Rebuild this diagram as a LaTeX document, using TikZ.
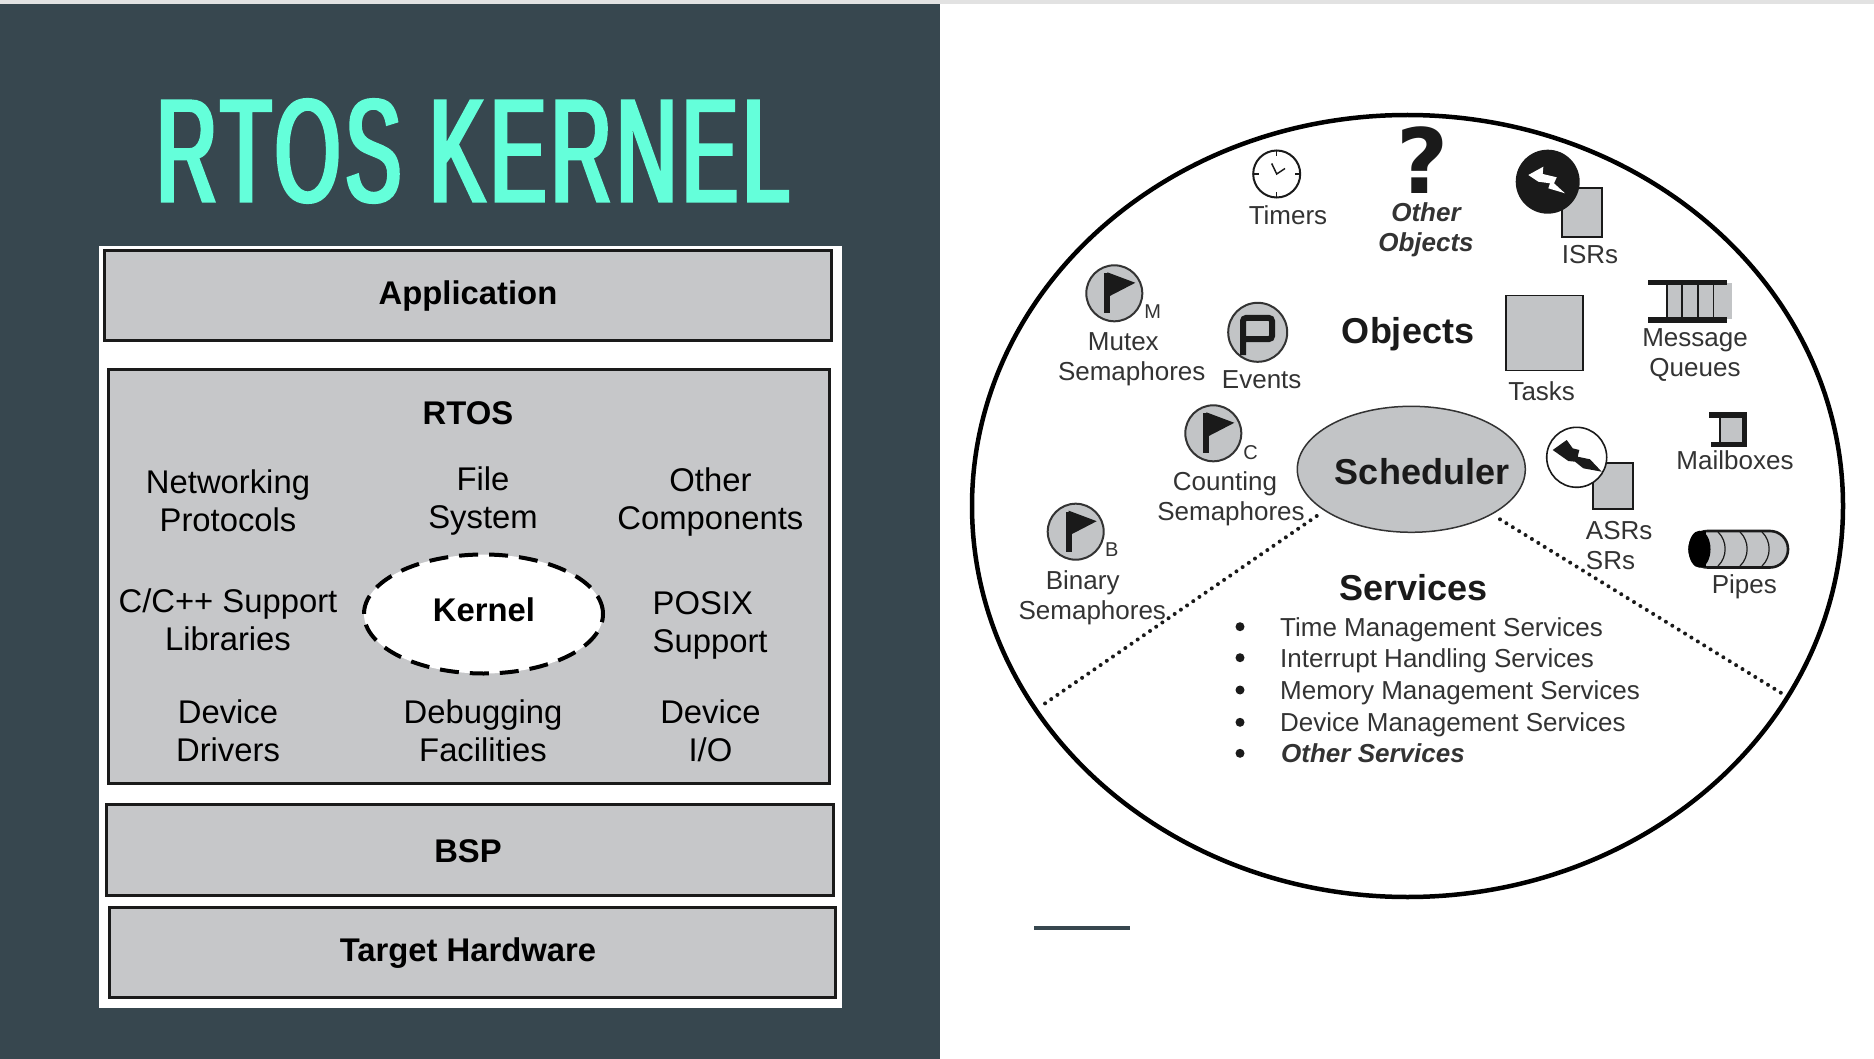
\documentclass[tikz,border=0pt]{standalone}
\usepackage{fontspec}
\setmainfont{Liberation Sans}
\newfontfamily\chunky{DejaVu Sans}
\newfontfamily\titlefont[FakeStretch=.17,FakeBold=1,LetterSpace=1]{Liberation Sans}
\usetikzlibrary{calc,shapes.geometric}
\definecolor{panel}{HTML}{37474F}
\definecolor{mint}{HTML}{64FFDA}
\definecolor{boxgray}{HTML}{C6C7C9}
\definecolor{icongray}{HTML}{C2C4C6}
\definecolor{inkdark}{HTML}{1A1A1A}
\definecolor{inkgray}{HTML}{333333}
\definecolor{topband}{HTML}{E2E2E2}
\tikzset{
  layerbox/.style={draw=inkdark,line width=3pt,fill=boxgray,inner sep=0pt,outer sep=0pt},
  lefttxt/.style={inner sep=0pt,anchor=north,align=center,text=black,font=\fontsize{32.8}{38}\selectfont},
  leftbold/.style={lefttxt,font=\fontsize{32.8}{38}\selectfont\bfseries},
  righttxt/.style={inner sep=0pt,anchor=north,align=center,text=inkgray,font=\fontsize{26}{30}\selectfont},
  rightital/.style={righttxt,font=\fontsize{26}{30}\selectfont\bfseries\itshape},
  rightlist/.style={righttxt,anchor=north west,align=left},
  heading/.style={inner sep=0pt,anchor=north,text=inkdark,font=\fontsize{36}{40}\selectfont\bfseries},
  sublabel/.style={inner sep=0pt,text=inkgray,font=\fontsize{20}{22}\selectfont},
  iconcircle/.style={circle,draw=inkgray,line width=2pt,fill=icongray,inner sep=0pt,minimum size=56pt,outer sep=0pt},
  iconsq/.style={draw=inkdark,line width=1.8pt,fill=icongray},
  dotline/.style={line width=4pt,line cap=round,dash pattern=on 0pt off 7.5pt,draw=inkdark},
  bullet/.style={circle,fill=inkdark,inner sep=0pt,minimum size=9pt},
}
\newcommand{\flagmark}[2]{%
  \fill[inkdark] ($(#1,#2)+(-10,-20)$) rectangle ($(#1,#2)+(-4,20)$);
  \fill[inkdark] ($(#1,#2)+(-7,-21)$) -- ($(#1,#2)+(21,-10.5)$) -- ($(#1,#2)+(-7,4)$) -- cycle;
}
\begin{document}
\begin{tikzpicture}[x=1pt,y=-1pt]
\useasboundingbox (0,0) rectangle (1874,1059);
\fill[white] (0,0) rectangle (1874,1059);
\fill[topband] (0,0) rectangle (1874,4);
\fill[panel] (0,4) rectangle (940,1059);
% title
\node[inner sep=0pt,text=mint,anchor=center] (title) at (473,151)
  {\scalebox{1}[.3]{\titlefont\fontsize{493}{500}\selectfont RTOS KERNEL}};
% white sheet
\fill[white] (99,246) rectangle (842,1008);
% layer boxes
\node[layerbox,minimum width=727pt,minimum height=90pt] (app) at (467.5,295.5) {};
\node[layerbox,minimum width=721pt,minimum height=414pt] (rtos) at (468.5,576.5) {};
\node[layerbox,minimum width=727pt,minimum height=91pt] (bsp) at (470,850) {};
\node[layerbox,minimum width=726pt,minimum height=90pt] (hw) at (472,952.5) {};
\node[leftbold] (tapp) at (468,281) {Application};
\node[leftbold] (trtos) at (468,401) {RTOS};
\node[leftbold] (tbsp) at (468,839) {BSP};
\node[leftbold] (thw) at (468,937.6) {Target Hardware};
\node[lefttxt] (net) at (228,470) {Networking\\Protocols};
\node[lefttxt] (file) at (483,466.6) {File\\System};
\node[lefttxt] (other) at (710.4,468) {Other\\Components};
\node[lefttxt] (libs) at (228,589) {C/C++ Support\\Libraries};
\node[lefttxt,anchor=north west,align=left] (posix) at (652.5,591.7) {POSIX\\Support};
\node[lefttxt] (drv) at (228,700) {Device\\Drivers};
\node[lefttxt] (dbg) at (483,700) {Debugging\\Facilities};
\node[lefttxt] (dio) at (710.4,700) {Device\\I/O};
\node[ellipse,draw=black,fill=white,line width=4pt,dash pattern=on 19pt off 11pt,minimum width=239pt,minimum height=119pt,inner sep=0pt] (kern) at (483.5,614) {};
\node[leftbold] (tkern) at (484,598) {Kernel};
% accent line
\fill[panel] (1034,926.3) rectangle (1130,930.3);
% big circle
\draw[black,line width=4.5pt] (1407.5,506) ellipse [x radius=435.5,y radius=391];
% scheduler
\node[ellipse,draw=inkgray,fill=icongray,line width=1.5pt,minimum width=228pt,minimum height=126pt,inner sep=0pt] (sched) at (1411.3,469.3) {};
\node[heading] (tsched) at (1422,458) {Scheduler};
\node[heading] (tobj) at (1408,317) {Objects};
\node[heading] (tserv) at (1413.7,574) {Services};
% dotted lines
\coordinate (dl) at (1042.7,705);
\coordinate (dr) at (1781.7,693.3);
\coordinate (sl) at (1316.7,516);
\coordinate (sr) at (1500,519.3);
\draw[dotline] (sl) -- (dl);
\draw[dotline] (sr) -- (dr);
% clock
\node[circle,draw=inkdark,line width=2pt,fill=white,minimum size=47pt,inner sep=0pt] (clk) at (1276.7,174) {};
\draw[inkdark,line width=1.5pt] (1276.7,150) -- (1276.7,156) (1276.7,198) -- (1276.7,192) (1252.7,174) -- (1258.7,174) (1300.7,174) -- (1294.7,174);
\draw[inkdark,line width=1.5pt] (1271.7,163.5) -- (1276.7,174) -- (1285,168.5);
\node[righttxt] (ttim) at (1288,205) {Timers};
% other objects
\node[inner sep=0pt,anchor=north,text=inkdark,text depth=0pt,font=\chunky\fontsize{90}{92}\selectfont\bfseries] (qm) at (1423,127) {?};
\node[rightital] (toth) at (1426,202.5) {Other\\Objects};
% ISR
\draw[iconsq] (1561.7,187.7) rectangle (1602,236.7);
\node[circle,fill=inkdark,minimum size=64pt,inner sep=0pt] (isrc) at (1547.7,181.7) {};
\fill[white] (1528.3,175) -- (1543.3,166.7) -- (1542.7,174) -- (1556.7,177.3) -- (1554,183.3) -- (1565,193.3) -- (1548.3,188.3) -- (1550,183.3) -- (1538.3,181.7) -- cycle;
\node[righttxt] (tisr) at (1590,245) {ISRs};
% mutex
\node[iconcircle] (mut) at (1114.3,293.3) {};
\flagmark{1114.3}{293.3}
\node[sublabel] (mm) at (1152.7,312) {M};
\node[righttxt] (tmut) at (1123.3,332) {Mutex};
\node[righttxt] (tmut2) at (1131.7,361) {Semaphores};
% events
\node[iconcircle,minimum size=59pt] (evt) at (1257.7,332.3) {};
\draw[inkdark,line width=6pt,rounded corners=3pt] (1243,355) -- (1243,318) -- (1272,318) -- (1272,339) -- (1243,339);
\node[righttxt] (tevt) at (1261.7,370) {Events};
% tasks
\node[iconsq,draw,rectangle,minimum width=77pt,minimum height=75pt,inner sep=0pt] (task) at (1544.5,333) {};
\node[righttxt] (ttask) at (1541.7,381) {Tasks};
% message queue
\fill[icongray] (1666.7,283) rectangle (1731.7,319);
\fill[inkdark] (1648.3,280) rectangle (1727,285.5);
\fill[inkdark] (1648.3,317.3) rectangle (1727,322.7);
\foreach \qx in {1666.7,1681.7,1697.7,1713.3}{\draw[inkdark,line width=1.6pt] (\qx,285) -- (\qx,318);}
\node[righttxt] (tq) at (1695,328) {Message\\Queues};
% mailbox
\fill[icongray] (1720,418) rectangle (1742,442);
\fill[inkdark] (1709.3,412.3) rectangle (1746.7,418.3);
\fill[inkdark] (1741.7,412.3) rectangle (1746.7,446.7);
\fill[inkdark] (1711,441.7) rectangle (1746.7,446.7);
\draw[inkdark,line width=1.4pt] (1720,418) -- (1720,442);
\node[righttxt] (tmb) at (1735,450) {Mailboxes};
% pipes
\draw[inkdark,fill=icongray,line width=2.6pt,rounded corners=18pt] (1689.5,531) rectangle (1788,567.5);
\fill[black] (1699.5,549.2) ellipse [x radius=11,y radius=18.5];
\fill[black] (1701,531) rectangle (1706,567);
\foreach \px in {1718,1740,1762}{
  \draw[inkdark,line width=1.2pt] (\px,532) .. controls (\px+9.5,541) and (\px+9.5,557) .. (\px,566);}
\node[righttxt] (tpipe) at (1744.3,574) {Pipes};
% ASR
\draw[iconsq] (1593.3,462.7) rectangle (1633.3,509.3);
\node[circle,draw=inkdark,line width=1.6pt,fill=white,minimum size=60pt,inner sep=0pt] (asrc) at (1576.7,457.3) {};
\fill[inkdark] (1552.7,450) -- (1566.7,440) -- (1572.7,448.3) -- (1579.3,450) -- (1577.7,456.7) -- (1590,459.3) -- (1601.7,471.7) -- (1583.3,468.3) -- (1575,461.7) -- (1568.3,461) -- cycle;
\node[righttxt,anchor=north west,align=left] (tasr) at (1585.7,521) {ASRs\\SRs};
% counting
\node[iconcircle] (cnt) at (1213.3,433.3) {};
\flagmark{1213.3}{433.3}
\node[sublabel] (mc) at (1250.7,452.3) {C};
\node[righttxt] (tcnt) at (1225,471.5) {Counting};
\node[righttxt] (tcnt2) at (1231,501) {Semaphores};
% binary
\node[iconcircle] (bin) at (1075.7,531.7) {};
\flagmark{1075.7}{531.7}
\node[sublabel] (mb) at (1111.7,550) {B};
\node[righttxt] (tbin) at (1082.7,570) {Binary};
\node[righttxt] (tbin2) at (1092.3,600) {Semaphores};
% services list
\foreach \i/\by in {a/626.7,b/657.7,c/690,d/722.3,e/753.3}{\node[bullet] (bul\i) at (1240,\by) {};}
\node[rightlist] (l1) at (1280,617) {Time Management Services};
\node[rightlist] (l2) at (1280,648.5) {Interrupt Handling Services};
\node[rightlist] (l3) at (1280,680.5) {Memory Management Services};
\node[rightlist] (l4) at (1280,712) {Device Management Services};
\node[rightital,anchor=north west] (l5) at (1281,743.5) {Other Services};
\end{tikzpicture}
\end{document}
